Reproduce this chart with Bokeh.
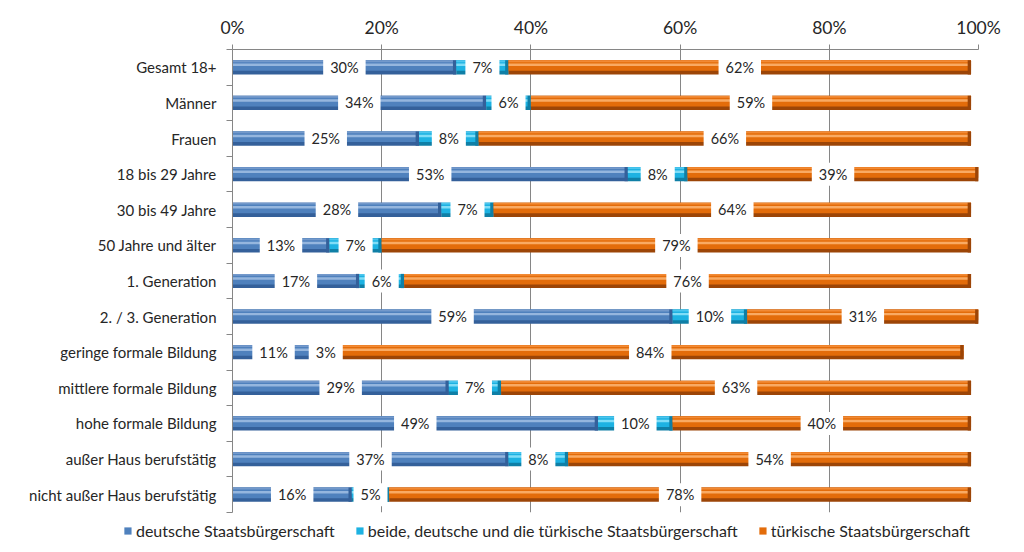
import pandas as pd
from bokeh.plotting import figure
from bokeh.models import (ColumnDataSource, Range1d, FixedTicker, PrintfTickFormatter,
                          Legend, LegendItem)
from bokeh.core.properties import value
from bokeh.embed import file_html
from bokeh.resources import INLINE

categories = ["Gesamt 18+", "Männer", "Frauen", "18 bis 29 Jahre", "30 bis 49 Jahre",
              "50 Jahre und älter", "1. Generation", "2. / 3. Generation",
              "geringe formale Bildung", "mittlere formale Bildung", "hohe formale Bildung",
              "außer Haus berufstätig", "nicht außer Haus berufstätig"]
deutsch = [30, 34, 25, 53, 28, 13, 17, 59, 11, 29, 49, 37, 16]
beide = [7, 6, 8, 8, 7, 7, 6, 10, 3, 7, 10, 8, 5]
tuerkisch = [62, 59, 66, 39, 64, 79, 76, 31, 84, 63, 40, 54, 78]
series_names = ["deutsche Staatsbürgerschaft",
                "beide, deutsche und die türkische Staatsbürgerschaft",
                "türkische Staatsbürgerschaft"]
x_ticks = [0, 20, 40, 60, 80, 100]

FONT = "Lato"
n = len(categories)
ypos = [i + 0.5 for i in range(n)]

p = figure(frame_width=746, frame_height=463, output_backend="svg", toolbar_location=None,
           x_range=Range1d(0, 100), y_range=Range1d(n, 0),
           x_axis_location="above", min_border_left=232, min_border_right=34,
           min_border_top=49, min_border_bottom=0)
p.outline_line_color = None
p.background_fill_color = "white"
p.border_fill_color = "white"

# axes
xa = p.xaxis[0]
xa.ticker = FixedTicker(ticks=x_ticks)
xa.formatter = PrintfTickFormatter(format="%d%%")
xa.axis_line_color = "#868686"
xa.major_tick_line_color = "#868686"
xa.major_tick_out = 5
xa.major_tick_in = 0
xa.minor_tick_line_color = None
xa.major_label_text_font = FONT
xa.major_label_text_font_size = "17.5px"
xa.major_label_text_color = "#262626"
xa.major_label_standoff = 7

ya = p.yaxis[0]
ya.ticker = FixedTicker(ticks=ypos, minor_ticks=list(range(n + 1)))
ya.major_label_overrides = {y: c for y, c in zip(ypos, categories)}
ya.axis_line_color = "#868686"
ya.major_tick_line_color = None
ya.minor_tick_line_color = "#868686"
ya.minor_tick_out = 6
ya.minor_tick_in = 0
ya.major_label_text_font = FONT
ya.major_label_text_font_size = "15px"
ya.major_label_text_color = "#262626"
ya.major_label_standoff = 10

p.xgrid.ticker = FixedTicker(ticks=x_ticks[1:])
p.xgrid.grid_line_color = "#868686"
p.ygrid.grid_line_color = None

# segments
df = pd.DataFrame({"cat": categories, "y": ypos, "d": deutsch, "b": beide, "t": tuerkisch})
df["d0"] = 0
df["d1"] = df["d"]
df["b0"] = df["d1"]
df["b1"] = df["d1"] + df["b"]
df["t0"] = df["b1"]
df["t1"] = df["b1"] + df["t"]

palettes = [
    ("d", dict(dark="#34609A", mid="#4F81BD", light="#95B6DE", top="#7399CB")),
    ("b", dict(dark="#0F7FA6", mid="#1DB2E2", light="#80DDF7", top="#4CC6EE")),
    ("t", dict(dark="#9C4507", mid="#E36C0A", light="#F9AA63", top="#F28A34")),
]

BAR_H = 0.40
legend_items = []
for (key, pal), name in zip(palettes, series_names):
    src = ColumnDataSource(dict(y=list(df["y"]), left=list(df[key + "0"]),
                                right=list(df[key + "1"]),
                                cap=list(df[key + "1"] - 0.45),
                                my=list(df["y"] - 0.05), hy=list(df["y"] - 0.07),
                                ty=list(df["y"] - 0.17)))
    p.hbar(y="y", left="left", right="right", height=BAR_H, source=src,
           fill_color=pal["dark"], line_color=None)
    mid = p.hbar(y="my", left="left", right="right", height=0.30, source=src,
                 fill_color=pal["mid"], line_color=None)
    p.hbar(y="ty", left="left", right="right", height=0.05, source=src,
           fill_color=pal["top"], line_color=None)
    p.hbar(y="hy", left="left", right="right", height=0.07, source=src,
           fill_color=pal["light"], line_color=None)
    p.hbar(y="y", left="cap", right="right", height=BAR_H, source=src,
           fill_color=pal["dark"], line_color=None)
    legend_items.append(LegendItem(label=name, renderers=[mid]))

# value labels
lab_x = (list((df["d0"] + df["d1"]) / 2) + list((df["b0"] + df["b1"]) / 2)
         + list((df["t0"] + df["t1"]) / 2))
lab = dict(x=lab_x, y=list(df["y"]) * 3,
           txt=[f"{v}%" for v in deutsch + beide + tuerkisch])
p.text(x="x", y="y", text="txt", source=ColumnDataSource(lab),
       text_align="center", text_baseline="middle", text_font=value(FONT),
       text_font_size="14.5px", text_color="#262626",
       background_fill_color="white",
       padding=dict(left=7, right=7, top=3, bottom=3))

legend = Legend(items=legend_items, orientation="horizontal",
                label_text_font=FONT, label_text_font_size="16px",
                label_text_color="#262626", glyph_width=9, glyph_height=9,
                label_height=20, spacing=20, label_standoff=4, border_line_color=None,
                background_fill_alpha=0, padding=2, margin=8)
p.add_layout(legend, "below")

open("out.html", "w").write(file_html(p, INLINE))
